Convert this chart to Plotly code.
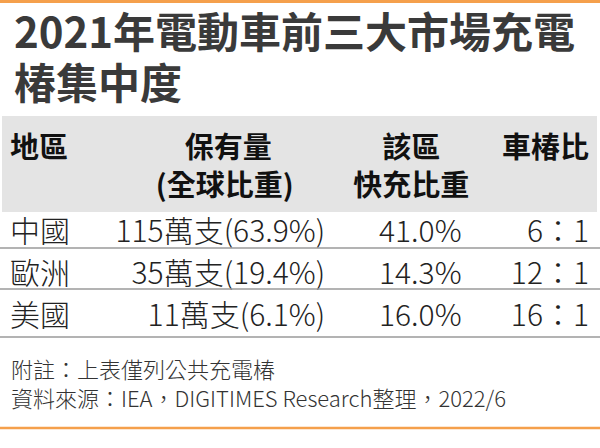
import plotly.graph_objects as go

# DATA
title_lines = ['2021年電動車前三大市場充電', '椿集中度']
header_lines = [['地區'], ['保有量', '(全球比重)'], ['該區', '快充比重'], ['車椿比']]
regions = ['中國', '歐洲', '美國']
ownership = ['115萬支(63.9%)', '35萬支(19.4%)', '11萬支(6.1%)']
fast_share = ['41.0%', '14.3%', '16.0%']
car_pile_ratio = ['6：1', '12：1', '16：1']
notes = ['附註：上表僅列公共充電椿',
         '資料來源：IEA，DIGITIMES Research整理，2022/6']

W, H = 600, 448
FONT = 'Noto Sans CJK TC'
LIGHT = 'Noto Sans CJK TC Light, Noto Sans CJK TC'
ORANGE = '#f5a04c'
HEAD_BG = '#e4e4e4'
NB = '\u00a0'
IDEO = '\u3000'


def py(px):
    # pixel row from top -> paper y
    return 1 - px / H


# table header cells: two lines each, short first lines padded so they look centred
header_pad = [('', ''), (IDEO, ''), (NB * 3 + IDEO, NB * 3), ('', '')]
header_vals = []
for lines, (p1, p2) in zip(header_lines, header_pad):
    second = lines[1] if len(lines) > 1 else NB
    header_vals.append(p1 + lines[0] + '<br>' + p2 + second)

fig = go.Figure()
fig.add_trace(go.Table(
    domain=dict(x=[2 / W, 597 / W], y=[py(338), py(116)]),
    columnwidth=[114, 216, 136, 127],
    header=dict(values=header_vals,
                align=['left', 'center', 'center', 'right'],
                fill_color=HEAD_BG,
                line=dict(color=HEAD_BG, width=1),
                height=89,
                font=dict(family=FONT, size=29, color='#111111', weight='bold')),
    cells=dict(values=[regions, ownership, fast_share, car_pile_ratio],
               align=['left', 'right', 'right', 'right'],
               fill_color='white',
               line=dict(color='white', width=1),
               height=42,
               font=dict(family=LIGHT, size=30, color='#222222', weight=300)),
))

shapes = [
    dict(type='rect', xref='paper', yref='paper', x0=0, x1=1, y0=py(3), y1=1,
         fillcolor=ORANGE, line=dict(width=0)),
    dict(type='line', xref='paper', yref='paper', x0=0, x1=1, y0=py(428), y1=py(428),
         line=dict(color=ORANGE, width=2.5)),
]
for ypx in [248, 289, 337]:
    shapes.append(dict(type='line', xref='paper', yref='paper', x0=0, x1=1,
                       y0=py(ypx), y1=py(ypx), line=dict(color='#9a9a9a', width=1.5)))

annotations = []
for i, line in enumerate(title_lines):
    annotations.append(dict(text=line, xref='paper', yref='paper',
                            x=12 / W, y=py(29 + 51 * i), xanchor='left', yanchor='middle',
                            showarrow=False,
                            font=dict(family=FONT, size=42, color='#3a3a3a', weight='bold')))
annotations.append(dict(text='<br>'.join(notes), xref='paper', yref='paper',
                        x=9 / W, y=py(350), xanchor='left', yanchor='top', align='left',
                        showarrow=False,
                        font=dict(family=LIGHT, size=22, color='#333333', weight=300)))

fig.update_layout(
    width=W, height=H,
    margin=dict(l=0, r=0, t=0, b=0),
    paper_bgcolor='white', plot_bgcolor='white',
    shapes=shapes,
    annotations=annotations,
)

# drop the browser's default 8px body margin so the figure sits at the page corner
fig.write_html('out.html', config={'displayModeBar': False},
               post_script="document.body.style.margin='0';")
